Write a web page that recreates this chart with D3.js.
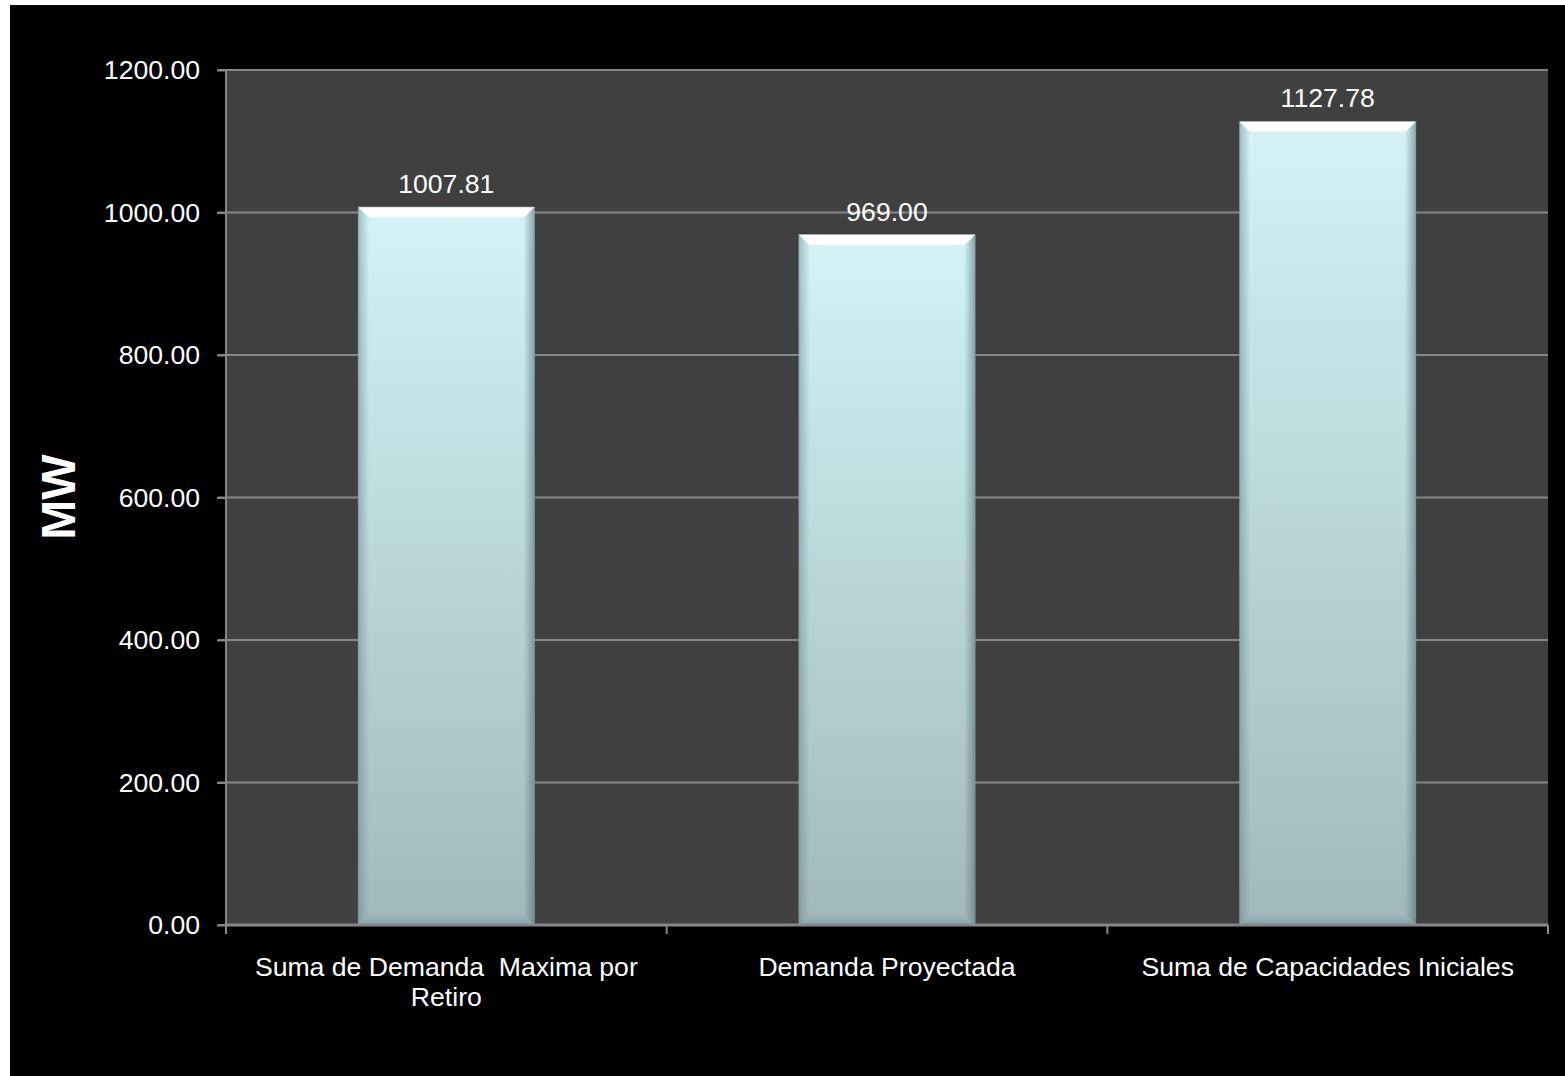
<!DOCTYPE html>
<html><head><meta charset="utf-8">
<script src="https://cdn.jsdelivr.net/npm/d3@7"></script>
<style>body{margin:0;background:#fff}svg{display:block}text{font-family:"Liberation Sans",Arial,sans-serif}</style>
</head><body><svg id="c" width="1565" height="1076"></svg>
<script>
const categories = [["Suma de Demanda  Maxima por","Retiro"],["Demanda Proyectada"],["Suma de Capacidades Iniciales"]];
const values = [1007.81, 969.00, 1127.78];
const valueLabels = ["1007.81","969.00","1127.78"];
const yTicks = [0,200,400,600,800,1000,1200];
const yAxisTitle = "MW";

const FS = 26.6;
const svg = d3.select("#c");
svg.append("rect").attr("x",10).attr("y",5).attr("width",1555).attr("height",1071).attr("fill","#000");

const L=226,R=1548,T=70,B=925;
const x = d3.scaleBand().domain(d3.range(categories.length)).range([L,R]).paddingInner(0.6).paddingOuter(0.3);
const xb = d3.scaleBand().domain(d3.range(categories.length)).range([L,R]);
const y = d3.scaleLinear().domain([0,1200]).range([B,T]);

svg.append("rect").attr("x",L).attr("y",T).attr("width",R-L).attr("height",B-T).attr("fill","#404040");

const defs = svg.append("defs");
const g1 = defs.append("linearGradient").attr("id","barg").attr("x1",0).attr("y1",0).attr("x2",0).attr("y2",1);
g1.append("stop").attr("offset",0).attr("stop-color","#d3f3f6");
g1.append("stop").attr("offset",1).attr("stop-color","#a1b9bc");
const gl = defs.append("linearGradient").attr("id","sideL").attr("x1",0).attr("y1",0).attr("x2",1).attr("y2",0);
gl.append("stop").attr("offset",0).attr("stop-color","#5f7e82").attr("stop-opacity",0.45);
gl.append("stop").attr("offset",1).attr("stop-color","#5f7e82").attr("stop-opacity",0);
const gr = defs.append("linearGradient").attr("id","sideR").attr("x1",1).attr("y1",0).attr("x2",0).attr("y2",0);
gr.append("stop").attr("offset",0).attr("stop-color","#4d6a6e").attr("stop-opacity",0.55);
gr.append("stop").attr("offset",1).attr("stop-color","#4d6a6e").attr("stop-opacity",0);
const gt = defs.append("linearGradient").attr("id","topB").attr("x1",0).attr("y1",0).attr("x2",0).attr("y2",1);
gt.append("stop").attr("offset",0).attr("stop-color","#ffffff").attr("stop-opacity",1);
gt.append("stop").attr("offset",0.8).attr("stop-color","#ffffff").attr("stop-opacity",1);
gt.append("stop").attr("offset",1).attr("stop-color","#ffffff").attr("stop-opacity",0.2);
const gb = defs.append("linearGradient").attr("id","botB").attr("x1",0).attr("y1",1).attr("x2",0).attr("y2",0);
gb.append("stop").attr("offset",0).attr("stop-color","#7f9699").attr("stop-opacity",0.7);
gb.append("stop").attr("offset",1).attr("stop-color","#7f9699").attr("stop-opacity",0);

// gridlines
svg.append("g").selectAll("line").data(yTicks).join("line")
  .attr("x1",L-8).attr("x2",R).attr("y1",d=>y(d)).attr("y2",d=>y(d))
  .attr("stroke","#878787").attr("stroke-width",2);

// bars
const bars = svg.append("g").selectAll("g").data(values).join("g");
const bw = x.bandwidth(), bev = 11;
bars.append("rect").attr("x",(d,i)=>x(i)).attr("y",d=>y(d)).attr("width",bw).attr("height",d=>B-y(d)).attr("fill","url(#barg)");
bars.append("path").attr("fill","url(#sideL)").attr("d",(d,i)=>{const x0=x(i),y0=y(d);return `M${x0},${y0}L${x0+bev},${y0+bev}L${x0+bev},${B-bev}L${x0},${B}Z`;});
bars.append("path").attr("fill","url(#sideR)").attr("d",(d,i)=>{const x1=x(i)+bw,y0=y(d);return `M${x1},${y0}L${x1-bev},${y0+bev}L${x1-bev},${B-bev}L${x1},${B}Z`;});
bars.append("path").attr("fill","url(#botB)").attr("d",(d,i)=>{const x0=x(i),x1=x0+bw;return `M${x0},${B}L${x0+bev},${B-bev}L${x1-bev},${B-bev}L${x1},${B}Z`;});
bars.append("path").attr("fill","url(#topB)").attr("d",(d,i)=>{const x0=x(i),x1=x0+bw,y0=y(d);return `M${x0},${y0}L${x1},${y0}L${x1-bev},${y0+bev}L${x0+bev},${y0+bev}Z`;});
bars.append("rect").attr("x",(d,i)=>x(i)).attr("y",d=>y(d)).attr("width",bw).attr("height",d=>B-y(d)).attr("fill","none").attr("stroke","#7e9a9e").attr("stroke-width",1).attr("stroke-opacity",0.5);

// value labels
svg.append("g").selectAll("text").data(values).join("text")
  .attr("x",(d,i)=>x(i)+bw/2).attr("y",d=>y(d)-14).attr("text-anchor","middle")
  .attr("fill","#fff").attr("font-size",FS).text((d,i)=>valueLabels[i]);

// y axis
const ya = svg.append("g").attr("transform",`translate(${L},0)`).call(d3.axisLeft(y).tickValues(yTicks).tickFormat(d=>d.toFixed(2)).tickSize(9).tickPadding(17));
ya.select(".domain").attr("stroke","#878787").attr("stroke-width",2).attr("d",`M0,${T}V${B}`);
ya.selectAll(".tick line").attr("stroke","#878787").attr("stroke-width",2);
ya.selectAll(".tick text").attr("fill","#fff").attr("font-size",FS).attr("font-family","Liberation Sans, Arial, sans-serif");

// x axis
const bounds = d3.range(categories.length+1).map(i=> i<categories.length ? xb(i) : R);
svg.append("line").attr("x1",L).attr("x2",R).attr("y1",B).attr("y2",B).attr("stroke","#878787").attr("stroke-width",3);
svg.append("g").selectAll("line").data(bounds).join("line")
  .attr("x1",d=>d).attr("x2",d=>d).attr("y1",B).attr("y2",B+9).attr("stroke","#878787").attr("stroke-width",2);
const cl = svg.append("g").selectAll("text").data(categories).join("text")
  .attr("x",(d,i)=>xb(i)+xb.bandwidth()/2).attr("y",976).attr("text-anchor","middle")
  .attr("fill","#fff").attr("font-size",FS).attr("xml:space","preserve").style("white-space","pre");
cl.each(function(d,i){
  const t=d3.select(this);
  d.forEach((ln,k)=>t.append("tspan").attr("x",xb(i)+xb.bandwidth()/2).attr("dy",k?30:0).text(ln));
});

// y title
svg.append("text").attr("transform",`translate(75,497) rotate(-90)`).attr("text-anchor","middle")
  .attr("fill","#fff").attr("font-size",48).attr("font-weight","bold").text(yAxisTitle);
</script></body></html>
